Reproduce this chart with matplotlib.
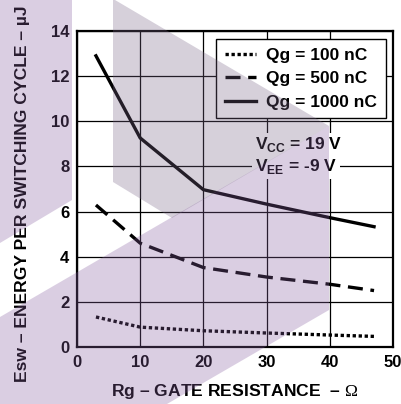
import matplotlib
matplotlib.use("Agg")
import matplotlib.pyplot as plt
from matplotlib.patches import Polygon

plt.rcParams['font.family'] = ['Liberation Sans', 'DejaVu Sans']
plt.rcParams['mathtext.fontset'] = 'custom'
plt.rcParams['mathtext.rm'] = 'Liberation Serif'
plt.rcParams['mathtext.bf'] = 'Liberation Sans:bold'

# data (Rg in ohm, Esw in uJ)
rg = [3, 10, 20, 30, 40, 47]
esw_100 = [1.33, 0.88, 0.72, 0.62, 0.53, 0.47]
esw_500 = [6.29, 4.6, 3.52, 3.1, 2.78, 2.5]
esw_1000 = [12.9, 9.26, 6.97, 6.33, 5.73, 5.33]
labels = ["Qg = 100 nC", "Qg = 500 nC", "Qg = 1000 nC"]
xticks = [0, 10, 20, 30, 40, 50]
yticks = [0, 2, 4, 6, 8, 10, 12, 14]

W, H = 401, 404
fig = plt.figure(figsize=(W / 100, H / 100), dpi=100)
ax = fig.add_axes([77 / W, 1 - 347 / H, 316 / W, 316 / H])

ax.plot(rg, esw_100, color="black", lw=2.4, ls=(0, (1, 0.8)), label=labels[0])
ax.plot(rg, esw_500, color="black", lw=2.4, ls=(0, (4.5, 2.3)), label=labels[1])
ax.plot(rg, esw_1000, color="black", lw=2.4, label=labels[2])

ax.set_xlim(0, 50)
ax.set_ylim(0, 14)
ax.set_xticks(xticks)
ax.set_yticks(yticks)
ax.grid(True, color="black", lw=0.9)
ax.tick_params(length=0, pad=5.5, labelsize=12)
for t in ax.get_xticklabels() + ax.get_yticklabels():
  t.set_fontweight("bold")
for s in ax.spines.values():
  s.set_linewidth(1.6)

ax.set_ylabel("Esw – ENERGY PER SWITCHING CYCLE – µJ", fontsize=12.6,
              fontweight="bold", va="center")
ax.yaxis.set_label_coords(-0.171, 0.486)
ax.set_xlabel(r"Rg – GATE RESISTANCE  – $\Omega$", fontsize=12.6,
              fontweight="bold", va="center")
ax.xaxis.set_label_coords(0.5, -0.142)

leg = ax.legend(loc="upper right", bbox_to_anchor=(0.978, 0.975), borderaxespad=0,
                fancybox=False, framealpha=1, edgecolor="black",
                prop={"weight": "bold", "size": 12.5}, handlelength=1.8,
                handletextpad=0.6, labelspacing=0.48, borderpad=0.5)
leg.get_frame().set_linewidth(1.0)

box = dict(fc="white", ec="none", pad=2)
ax.text(28.2, 8.95, r"$\mathbf{V}_{\mathbf{CC}}$ = 19 V", fontsize=12.5,
        fontweight="bold", ha="left", va="center", bbox=box)
ax.text(28.2, 8.0, r"$\mathbf{V}_{\mathbf{EE}}$ = -9 V", fontsize=12.5,
        fontweight="bold", ha="left", va="center", bbox=box)

# watermark overlay (pixel coords, top-left origin)
a = 0.3
lav = (135 / 255, 95 / 255, 160 / 255)
gry = (120 / 255, 100 / 255, 135 / 255)
def px(pts):
  return [(x / W, 1 - y / H) for x, y in pts]
shapes = [
  ([(0, 0), (72, 0), (72, 200), (0, 243)], lav),
  ([(0, 317), (329, 126), (329, 310), (167, 404), (0, 404)], lav),
  ([(113, 0), (115, 0), (329, 126), (172, 218), (113, 182)], gry),
]
for pts, c in shapes:
  fig.add_artist(Polygon(px(pts), closed=True, transform=fig.transFigure,
                         fc=c, ec="none", alpha=a, zorder=10))

fig.savefig("out.png", dpi=100)
